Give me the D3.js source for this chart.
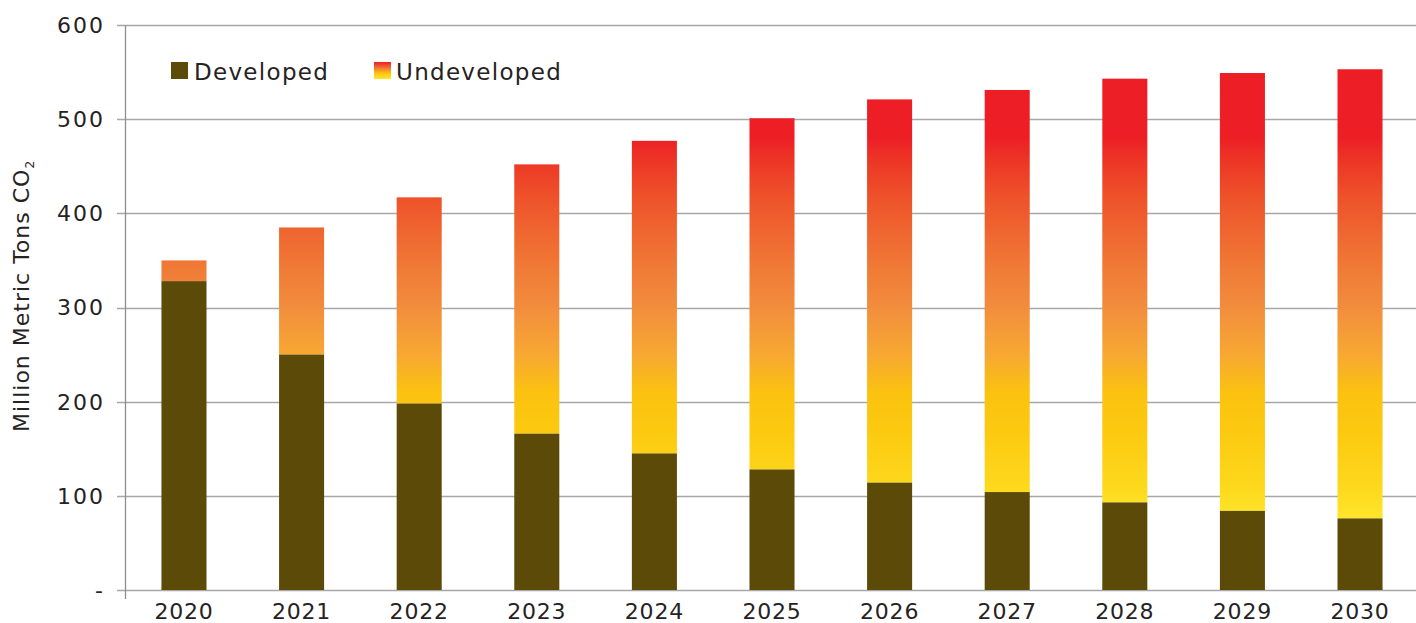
<!DOCTYPE html>
<html>
<head>
<meta charset="utf-8">
<script src="https://cdn.jsdelivr.net/npm/d3@7"></script>
<style>
  html, body { margin: 0; padding: 0; background: #fff; }
  svg { display: block; }
  text { font-family: "DejaVu Sans", sans-serif; fill: #262223; }
</style>
</head>
<body>
<svg id="chart" width="1416" height="623"></svg>
<script>
const years = ["2020","2021","2022","2023","2024","2025","2026","2027","2028","2029","2030"];
const developed = [328, 250, 198, 166, 145, 128, 114, 104, 93, 84, 76];
const undeveloped = [22, 135, 219, 286, 332, 373, 407, 427, 450, 465, 477];
const yTicks = [0, 100, 200, 300, 400, 500, 600];
const yTickLabels = ["-", "100", "200", "300", "400", "500", "600"];
const seriesNames = ["Developed", "Undeveloped"];

const W = 1416, H = 623;
const svg = d3.select("#chart");

const x = d3.scaleBand().domain(years).range([125, 1419]).paddingInner(0.617).paddingOuter(0.31);
const y = d3.scaleLinear().domain([0, 600]).range([590, 25]);

// gradient anchored to the value axis (same colour at the same value on every bar)
const gradStops = [
  [0, "#FFEB2C"], [80, "#FEE42A"], [110, "#FDD81C"], [170, "#FCC910"], [210, "#FBC20F"],
  [250, "#F7A832"], [300, "#F28D3D"], [340, "#F07B36"], [380, "#EF6630"], [420, "#EE5029"],
  [455, "#ED3626"], [480, "#ED1F25"], [600, "#ED1C24"]
];
const defs = svg.append("defs");
const g = defs.append("linearGradient").attr("id", "undevGrad")
  .attr("gradientUnits", "userSpaceOnUse")
  .attr("x1", 0).attr("x2", 0).attr("y1", y(0)).attr("y2", y(600));
g.selectAll("stop").data(gradStops).join("stop")
  .attr("offset", d => d[0] / 600).attr("stop-color", d => d[1]);

const lg = defs.append("linearGradient").attr("id", "legGrad")
  .attr("x1", 0).attr("x2", 0).attr("y1", 1).attr("y2", 0);
lg.selectAll("stop").data([[0, "#FFE82A"], [0.35, "#FBC20F"], [0.65, "#F07536"], [1, "#ED1C24"]]).join("stop")
  .attr("offset", d => d[0]).attr("stop-color", d => d[1]);

// gridlines
svg.append("g").selectAll("line").data(yTicks).join("line")
  .attr("x1", 117).attr("x2", W)
  .attr("y1", d => Math.round(y(d)) + 0.5).attr("y2", d => Math.round(y(d)) + 0.5)
  .attr("stroke", "#A7A7A7").attr("stroke-width", 1.5);

// y axis line
svg.append("line").attr("x1", 125.5).attr("x2", 125.5).attr("y1", y(600)).attr("y2", 599)
  .attr("stroke", "#8E8E8E").attr("stroke-width", 1.3);

// bars
const stack = years.map((yr, i) => ({ yr, dev: developed[i], und: undeveloped[i] }));
const bars = svg.append("g");
bars.selectAll("rect.und").data(stack).join("rect").attr("class", "und")
  .attr("x", d => x(d.yr)).attr("width", x.bandwidth())
  .attr("y", d => y(d.dev + d.und)).attr("height", d => y(d.dev) - y(d.dev + d.und))
  .attr("fill", "url(#undevGrad)");
bars.selectAll("rect.dev").data(stack).join("rect").attr("class", "dev")
  .attr("x", d => x(d.yr)).attr("width", x.bandwidth())
  .attr("y", d => y(d.dev)).attr("height", d => y(0) - y(d.dev))
  .attr("fill", "#5C4A08");

// y tick labels
svg.append("g").selectAll("text").data(yTicks).join("text")
  .attr("x", 105).attr("y", d => y(d)).attr("dy", "0.36em")
  .attr("text-anchor", "end").attr("font-size", 22).attr("letter-spacing", 2)
  .text((d, i) => yTickLabels[i]);

// x labels
svg.append("g").selectAll("text").data(years).join("text")
  .attr("x", d => x(d) + x.bandwidth() / 2).attr("y", 611).attr("dy", "0.36em")
  .attr("text-anchor", "middle").attr("font-size", 22).attr("letter-spacing", 0.8)
  .text(d => d);

// y axis title
const yt = svg.append("text")
  .attr("transform", "translate(29,296) rotate(-90)")
  .attr("text-anchor", "middle").attr("font-size", 22).attr("letter-spacing", 1.0);
yt.append("tspan").text("Million Metric Tons CO");
yt.append("tspan").attr("font-size", 12).attr("dy", 5).text("2");

// legend
const leg = svg.append("g");
leg.append("rect").attr("x", 171).attr("y", 62).attr("width", 17).attr("height", 17).attr("fill", "#5C4A08");
leg.append("text").attr("x", 194).attr("y", 79.5).attr("font-size", 23).attr("letter-spacing", 1.3).text(seriesNames[0]);
leg.append("rect").attr("x", 374).attr("y", 62).attr("width", 17).attr("height", 17).attr("fill", "url(#legGrad)");
leg.append("text").attr("x", 396).attr("y", 79.5).attr("font-size", 23).attr("letter-spacing", 1.3).text(seriesNames[1]);
</script>
</body>
</html>
